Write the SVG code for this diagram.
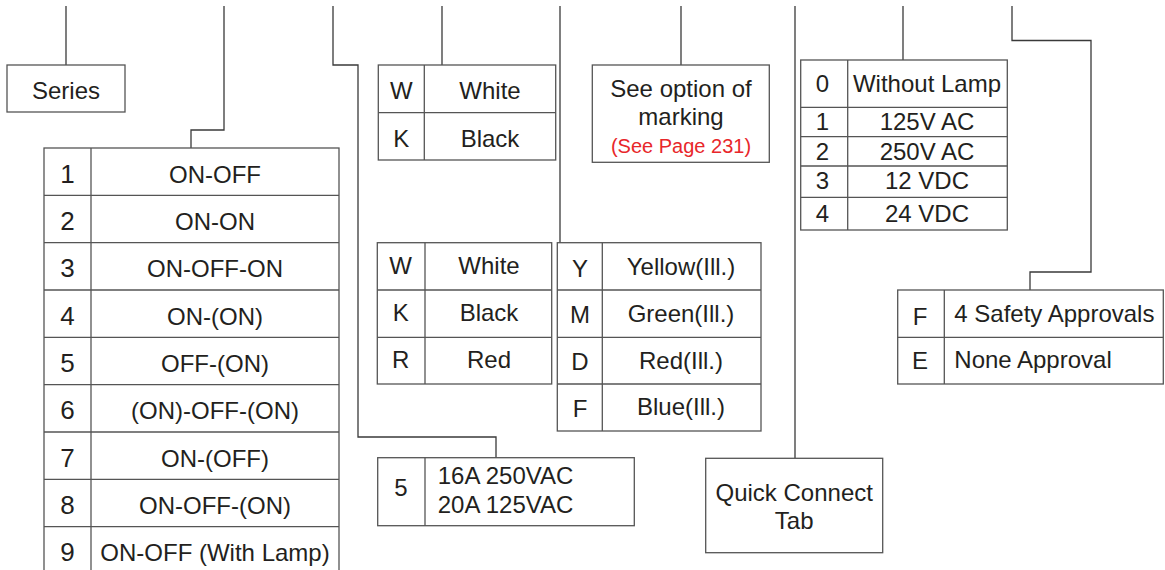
<svg xmlns="http://www.w3.org/2000/svg" width="1165" height="570" viewBox="0 0 1165 570">
<style>
.c{fill:none;stroke:#3a3a3a;stroke-width:1.3}
.b{fill:#fff;stroke:#555;stroke-width:1.3}
.l{stroke:#555;stroke-width:1.3}
text{font-family:"Liberation Sans",Arial,sans-serif;fill:#231f20;font-size:24px}
.m{text-anchor:middle}
.d{font-size:26px}
.r{fill:#e8262a;font-size:20px}
</style>
<rect width="1165" height="570" fill="#fff"/>
<g id="connectors">
<polyline class="c" points="66,6 66,65"/>
<polyline class="c" points="224,6 224,130 191,130 191,148"/>
<polyline class="c" points="333,6 333,65 358,65 358,437 496,437 496,458"/>
<polyline class="c" points="442,6 442,65"/>
<polyline class="c" points="560,6 560,243"/>
<polyline class="c" points="681,6 681,65"/>
<polyline class="c" points="795,6 795,458"/>
<polyline class="c" points="903,6 903,60"/>
<polyline class="c" points="1012,6 1012,40.5 1091,40.5 1091,272 1030,272 1030,290"/>
</g>
<g id="series">
<rect class="b" x="7" y="65" width="118" height="47"/>
<text class="m" x="66" y="99">Series</text>
</g>
<g id="function-table">
<rect class="b" x="44" y="148" width="295" height="426"/>
<line class="l" x1="91" y1="148" x2="91" y2="574"/>
<line class="l" x1="44" y1="195.3" x2="339" y2="195.3"/>
<line class="l" x1="44" y1="242.6" x2="339" y2="242.6"/>
<line class="l" x1="44" y1="290" x2="339" y2="290"/>
<line class="l" x1="44" y1="337.3" x2="339" y2="337.3"/>
<line class="l" x1="44" y1="384.6" x2="339" y2="384.6"/>
<line class="l" x1="44" y1="432" x2="339" y2="432"/>
<line class="l" x1="44" y1="479.3" x2="339" y2="479.3"/>
<line class="l" x1="44" y1="526.6" x2="339" y2="526.6"/>
<text class="m d" x="67.5" y="182.7">1</text>
<text class="m d" x="67.5" y="230">2</text>
<text class="m d" x="67.5" y="277.3">3</text>
<text class="m d" x="67.5" y="324.6">4</text>
<text class="m d" x="67.5" y="371.9">5</text>
<text class="m d" x="67.5" y="419.2">6</text>
<text class="m d" x="67.5" y="466.5">7</text>
<text class="m d" x="67.5" y="513.8">8</text>
<text class="m d" x="67.5" y="561.1">9</text>
<text class="m" x="215" y="182.7">ON-OFF</text>
<text class="m" x="215" y="230">ON-ON</text>
<text class="m" x="215" y="277.3">ON-OFF-ON</text>
<text class="m" x="215" y="324.6">ON-(ON)</text>
<text class="m" x="215" y="371.9">OFF-(ON)</text>
<text class="m" x="215" y="419.2">(ON)-OFF-(ON)</text>
<text class="m" x="215" y="466.5">ON-(OFF)</text>
<text class="m" x="215" y="513.8">ON-OFF-(ON)</text>
<text class="m" x="215" y="561.1">ON-OFF (With Lamp)</text>
</g>
<g id="housing-color">
<rect class="b" x="378.3" y="65" width="177.4" height="95"/>
<line class="l" x1="424.3" y1="65" x2="424.3" y2="160"/>
<line class="l" x1="378.3" y1="112.7" x2="555.7" y2="112.7"/>
<text class="m" x="401.3" y="99">W</text>
<text class="m" x="490" y="99">White</text>
<text class="m" x="401.3" y="146.7">K</text>
<text class="m" x="490" y="146.7">Black</text>
</g>
<g id="marking">
<rect class="b" x="592.3" y="65" width="177" height="97.3"/>
<text class="m" x="681" y="96.5">See option of</text>
<text class="m" x="681" y="124.5">marking</text>
<text class="m r" x="681" y="153.3">(See Page 231)</text>
</g>
<g id="actuator-color">
<rect class="b" x="377.3" y="242.7" width="174.4" height="141.3"/>
<line class="l" x1="425" y1="242.7" x2="425" y2="384"/>
<line class="l" x1="377.3" y1="290" x2="551.7" y2="290"/>
<line class="l" x1="377.3" y1="337.3" x2="551.7" y2="337.3"/>
<text class="m" x="400.7" y="274.3">W</text>
<text class="m" x="489" y="274.3">White</text>
<text class="m" x="400.7" y="321.3">K</text>
<text class="m" x="489" y="321.3">Black</text>
<text class="m" x="400.7" y="368.3">R</text>
<text class="m" x="489" y="368.3">Red</text>
</g>
<g id="illuminated-color">
<rect class="b" x="557.3" y="242.7" width="203.7" height="188.3"/>
<line class="l" x1="602.3" y1="242.7" x2="602.3" y2="431"/>
<line class="l" x1="557.3" y1="290" x2="761" y2="290"/>
<line class="l" x1="557.3" y1="337.3" x2="761" y2="337.3"/>
<line class="l" x1="557.3" y1="384" x2="761" y2="384"/>
<text class="m" x="580" y="276.5">Y</text>
<text class="m" x="681" y="274.5">Yellow(Ill.)</text>
<text class="m" x="580" y="323.3">M</text>
<text class="m" x="681" y="321.5">Green(Ill.)</text>
<text class="m" x="580" y="370">D</text>
<text class="m" x="681" y="368.5">Red(Ill.)</text>
<text class="m" x="580" y="416.7">F</text>
<text class="m" x="681" y="415">Blue(Ill.)</text>
</g>
<g id="rating">
<rect class="b" x="377.7" y="457.7" width="256.6" height="68"/>
<line class="l" x1="425" y1="457.7" x2="425" y2="525.7"/>
<text class="m" x="401" y="496">5</text>
<text x="437.7" y="484.3">16A 250VAC</text>
<text x="437.7" y="512.7">20A 125VAC</text>
</g>
<g id="terminal">
<rect class="b" x="705.7" y="458.3" width="177" height="94.4"/>
<text class="m" x="794.2" y="501">Quick Connect</text>
<text class="m" x="794.2" y="529.3">Tab</text>
</g>
<g id="lamp">
<rect class="b" x="800.7" y="60" width="206.6" height="170"/>
<line class="l" x1="847.7" y1="60" x2="847.7" y2="230"/>
<line class="l" x1="800.7" y1="107.3" x2="1007.3" y2="107.3"/>
<line class="l" x1="800.7" y1="136.7" x2="1007.3" y2="136.7"/>
<line class="l" x1="800.7" y1="166" x2="1007.3" y2="166"/>
<line class="l" x1="800.7" y1="197.3" x2="1007.3" y2="197.3"/>
<text class="m" x="822.5" y="92">0</text>
<text class="m" x="927" y="92">Without Lamp</text>
<text class="m" x="822.5" y="130">1</text>
<text class="m" x="927" y="130">125V AC</text>
<text class="m" x="822.5" y="160">2</text>
<text class="m" x="927" y="160">250V AC</text>
<text class="m" x="822.5" y="189.3">3</text>
<text class="m" x="927" y="189.3">12 VDC</text>
<text class="m" x="822.5" y="221.7">4</text>
<text class="m" x="927" y="221.7">24 VDC</text>
</g>
<g id="approvals">
<rect class="b" x="897.7" y="290" width="265.6" height="94"/>
<line class="l" x1="944.3" y1="290" x2="944.3" y2="384"/>
<line class="l" x1="897.7" y1="337.3" x2="1163.3" y2="337.3"/>
<text class="m" x="920" y="324.5">F</text>
<text x="954.3" y="321.7">4 Safety Approvals</text>
<text class="m" x="920" y="369.3">E</text>
<text x="954.3" y="368.3">None Approval</text>
</g>
</svg>
